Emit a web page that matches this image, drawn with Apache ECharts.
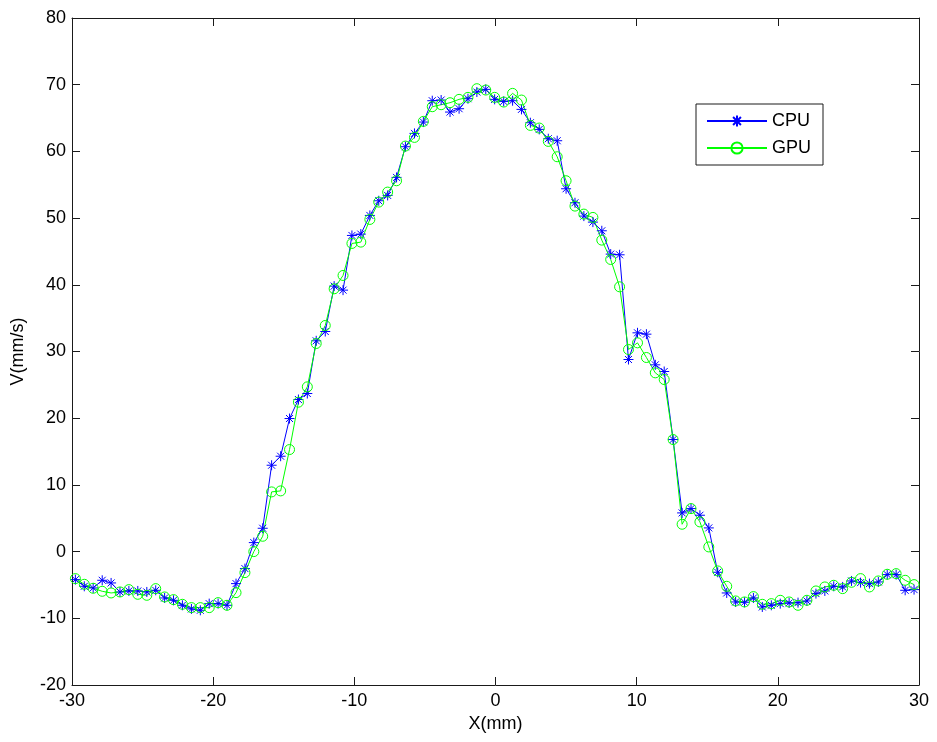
<!DOCTYPE html>
<html>
<head>
<meta charset="utf-8">
<script src="https://cdn.jsdelivr.net/npm/echarts@6/dist/echarts.min.js"></script>
<style>
html,body{margin:0;padding:0;background:#fff;}
#chart{width:937px;height:742px;}
</style>
</head>
<body>
<div id="chart"></div>
<script>
var xValues = [-29.76,-29.13,-28.50,-27.86,-27.23,-26.60,-25.97,-25.34,-24.70,-24.07,
-23.44,-22.81,-22.18,-21.54,-20.91,-20.28,-19.65,-19.02,-18.38,-17.75,
-17.12,-16.49,-15.86,-15.22,-14.59,-13.96,-13.33,-12.70,-12.06,-11.43,
-10.80,-10.17,-9.54,-8.90,-8.27,-7.64,-7.01,-6.38,-5.74,-5.11,
-4.48,-3.85,-3.22,-2.58,-1.95,-1.32,-0.69,-0.06,0.58,1.21,
1.84,2.47,3.10,3.74,4.37,5.00,5.63,6.26,6.90,7.53,
8.16,8.79,9.42,10.06,10.69,11.32,11.95,12.58,13.22,13.85,
14.48,15.11,15.74,16.38,17.01,17.64,18.27,18.90,19.54,20.17,
20.80,21.43,22.06,22.70,23.33,23.96,24.59,25.22,25.86,26.49,
27.12,27.75,28.38,29.02,29.65];

var cpuValues = [-4.2,-5.2,-5.45,-4.3,-4.7,-6.05,-5.9,-5.9,-6.05,-5.8,
-6.95,-7.3,-8.05,-8.6,-8.8,-7.8,-7.8,-8.05,-4.8,-2.55,
1.35,3.5,12.95,14.3,19.95,22.8,23.7,31.6,33.0,39.8,
39.2,47.4,47.6,50.4,52.6,53.4,56.1,60.7,62.7,64.4,
67.6,67.7,65.9,66.4,67.9,68.9,69.3,67.8,67.5,67.6,
66.3,64.3,63.3,61.9,61.6,54.4,52.3,50.3,49.4,48.1,
44.6,44.5,28.8,32.8,32.6,28.0,27.0,16.8,5.8,6.45,
5.45,3.55,-3.1,-6.2,-7.55,-7.6,-6.95,-8.3,-8.05,-7.8,
-7.7,-7.65,-7.4,-6.3,-5.9,-5.2,-5.3,-4.4,-4.65,-4.8,
-4.55,-3.45,-3.45,-5.8,-5.7];

var gpuValues = [-4.05,-4.9,-5.5,-5.95,-6.2,-6.05,-5.7,-6.4,-6.55,-5.55,
-6.8,-7.2,-7.9,-8.4,-8.4,-8.4,-7.65,-8.05,-6.15,-3.15,
0.0,2.3,8.95,9.1,15.3,22.4,24.7,31.2,33.9,39.4,
41.4,46.2,46.4,49.8,52.4,53.9,55.6,60.8,62.1,64.5,
66.7,67.0,67.3,67.8,68.1,69.4,69.2,68.1,67.4,68.7,
67.7,63.9,63.5,61.5,59.2,55.6,51.8,50.6,50.1,46.7,
43.8,39.7,30.3,31.3,29.1,26.8,25.8,16.8,4.1,6.45,
4.45,0.7,-2.9,-5.2,-7.4,-7.55,-6.75,-7.9,-7.8,-7.3,
-7.55,-8.05,-7.3,-5.9,-5.3,-5.05,-5.55,-4.6,-4.05,-5.3,
-4.4,-3.4,-3.3,-4.3,-4.95];

var seriesNames = ['CPU', 'GPU'];
var xAxisName = 'X(mm)';
var yAxisName = 'V(mm/s)';

function pairs(xs, ys) {
  var out = [];
  for (var i = 0; i < xs.length; i++) out.push([xs[i], ys[i]]);
  return out;
}

var FONT = 'Liberation Sans, Arial, sans-serif';
var AX = '#1a1a1a';
var star = 'path://M5,0L5,10M0,5L10,5M1.5,1.5L8.5,8.5M1.5,8.5L8.5,1.5';

function xAx(pos, show) {
  return {
    type: 'value', position: pos, min: -30, max: 30, interval: 10,
    name: show ? xAxisName : '', nameLocation: 'middle', nameGap: 30,
    nameTextStyle: {fontFamily: FONT, fontSize: 18, color: '#000'},
    axisLine: {show: true, onZero: false, lineStyle: {color: AX, width: 1}},
    axisTick: {show: true, inside: true, length: 8, lineStyle: {color: AX}},
    axisLabel: {show: show, margin: 7, fontFamily: FONT, fontSize: 18, color: '#000'},
    splitLine: {show: false}
  };
}
function yAx(pos, show) {
  return {
    type: 'value', position: pos, min: -20, max: 80, interval: 10,
    name: show ? yAxisName : '', nameLocation: 'middle', nameGap: 45, nameRotate: 90,
    nameTextStyle: {fontFamily: FONT, fontSize: 18, color: '#000'},
    axisLine: {show: true, onZero: false, lineStyle: {color: AX, width: 1}},
    axisTick: {show: true, inside: true, length: 8, lineStyle: {color: AX}},
    axisLabel: {show: show, margin: 6, fontFamily: FONT, fontSize: 18, color: '#000'},
    splitLine: {show: false}
  };
}

var chart = echarts.init(document.getElementById('chart'), null, {renderer: 'canvas'});
chart.setOption({
  animation: false,
  backgroundColor: '#fff',
  grid: {left: 72, right: 18, top: 18, bottom: 57, containLabel: false, outerBoundsMode: 'none'},
  xAxis: [xAx('bottom', true), xAx('top', false)],
  yAxis: [yAx('left', true), yAx('right', false)],
  legend: {
    orient: 'vertical', left: 696, top: 104,
    padding: [8, 12, 8, 10], itemGap: 9, itemWidth: 60, itemHeight: 14,
    backgroundColor: '#fff', borderColor: AX, borderWidth: 1,
    textStyle: {fontFamily: FONT, fontSize: 18, color: '#000'},
    data: seriesNames
  },
  series: [
    {
      name: seriesNames[0], type: 'line', xAxisIndex: 0, yAxisIndex: 0,
      data: pairs(xValues, cpuValues),
      symbol: star, symbolSize: 10, showSymbol: true, showAllSymbol: true,
      lineStyle: {color: '#0000ff', width: 1},
      itemStyle: {color: '#0000ff', borderColor: '#0000ff', borderWidth: 1},
      emphasis: {disabled: true}
    },
    {
      name: seriesNames[1], type: 'line', xAxisIndex: 0, yAxisIndex: 0,
      data: pairs(xValues, gpuValues),
      symbol: 'circle', symbolSize: 10, showSymbol: true, showAllSymbol: true,
      lineStyle: {color: '#00ff00', width: 1},
      itemStyle: {color: 'rgba(0,0,0,0)', borderColor: '#00ff00', borderWidth: 1},
      emphasis: {disabled: true}
    }
  ]
});
</script>
</body>
</html>
